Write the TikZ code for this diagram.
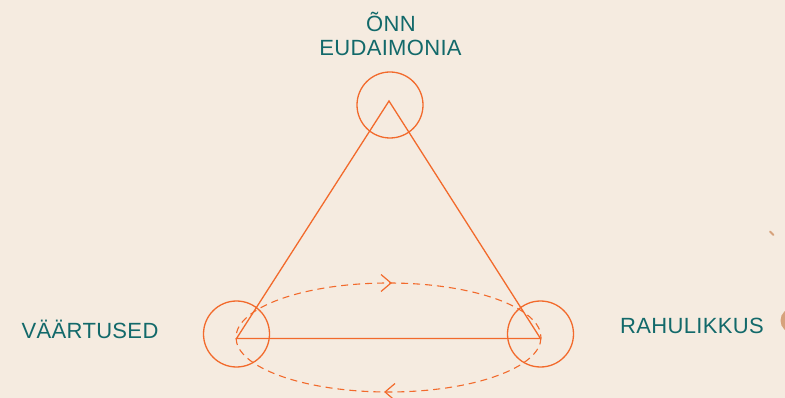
\documentclass[tikz,border=0pt]{standalone}
\usepackage{fontspec}
\setmainfont{Liberation Sans}
\usetikzlibrary{calc}
\definecolor{bg}{HTML}{F5EBE0}
\definecolor{org}{HTML}{F26A2C}
\definecolor{teal}{HTML}{12696A}
\definecolor{tan}{HTML}{D6A27C}
\begin{document}
\begin{tikzpicture}[x=1pt,y=-1pt,
  ring/.style={circle,draw=org,line width=1.3pt,minimum size=66pt,inner sep=0pt},
  edge/.style={draw=org,line width=1.3pt},
  lbl/.style={text=teal,font=\fontsize{22}{26}\selectfont\addfontfeatures{LetterSpace=1.5},inner sep=0pt},
  chev/.style={draw=org,line width=1.2pt}]
\fill[bg] (0,0) rectangle (785,398);
\useasboundingbox (0,0) rectangle (785,398);
% vertices
\coordinate (A) at (389,101);
\coordinate (B) at (236.5,338.5);
\coordinate (C) at (540.5,338.5);
% rings
\node[ring] (rt) at (390,105) {};
\node[ring] (rl) at (236.5,334) {};
\node[ring] (rr) at (540.5,334) {};
% triangle
\draw[edge] (A) -- (B) -- (C) -- cycle;
% dashed cycle
\draw[org,line width=1.1pt,dash pattern=on 7pt off 5pt] (388.5,337.5) ellipse [x radius=152.5, y radius=54.5];
\coordinate (t1) at (391,283);
\coordinate (t2) at (385,392);
\draw[chev] ($(t1)+(-10,-8.5)$) -- (t1) -- ($(t1)+(-10,8.5)$);
\draw[chev] ($(t2)+(10,-8.5)$) -- (t2) -- ($(t2)+(10,8.5)$);
% labels
\node[lbl,anchor=base] (l1) at (391,32) {ÕNN};
\node[lbl,anchor=base] (l2) at (390.5,56) {EUDAIMONIA};
\node[lbl,anchor=base west] (l3) at (21.5,338) {VÄÄRTUSED};
\node[lbl,anchor=base west] (l4) at (620,334) {RAHULIKKUS};
% decorations at edge
\draw[tan,line width=2pt,line cap=round] (770,231.5) -- (773.5,235);
\fill[tan] (793,320.5) circle (12.5);
\end{tikzpicture}
\end{document}
